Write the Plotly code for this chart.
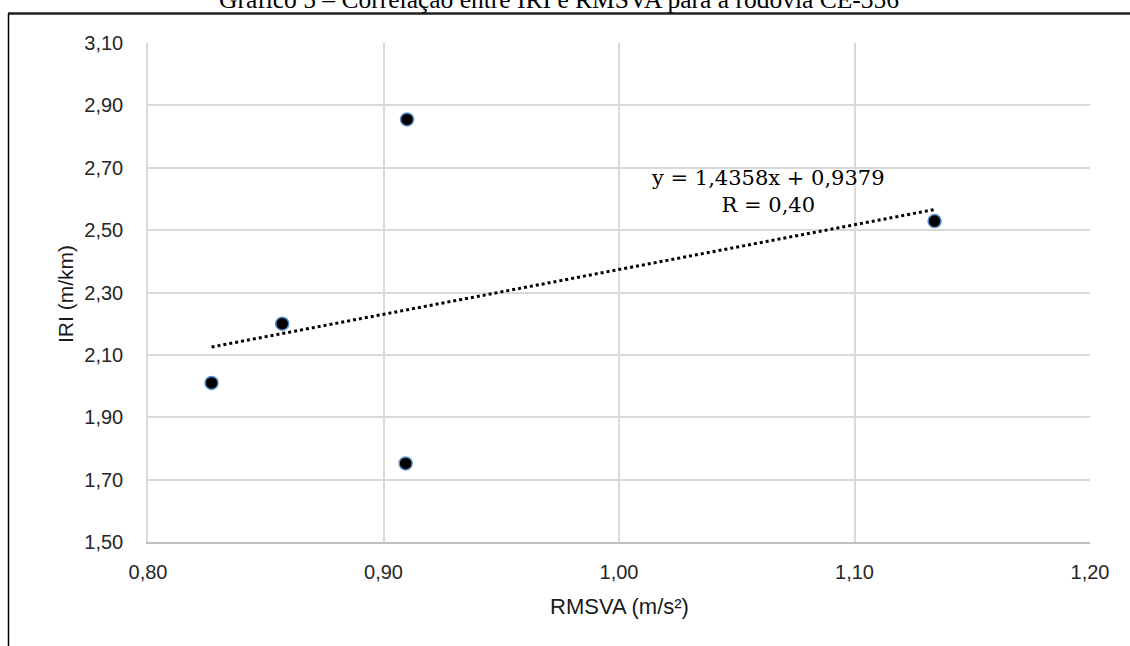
import plotly.graph_objects as go

# Data
rmsva = [0.827, 0.857, 0.9094, 0.910, 1.134]
iri = [2.01, 2.20, 1.752, 2.855, 2.529]
slope = 1.4358
intercept = 0.9379
eq_text = "y = 1,4358x + 0,9379<br>R = 0,40"
title_text = "Gráfico 5 – Correlação entre IRI e RMSVA para a rodovia CE-356"
x_ticks = [0.80, 0.90, 1.00, 1.10, 1.20]
y_ticks = [1.50, 1.70, 1.90, 2.10, 2.30, 2.50, 2.70, 2.90, 3.10]

W, H = 1130, 646
# plot area in page pixels
SL, SR, ST, SB = 148, 1090, 43, 542
L, T, R, B = SL, ST, W - SR, H - SB
pw, ph = SR - SL, SB - ST

def px(xs):
    return (xs - SL) / pw

def py(ys):
    return (SB - ys) / ph

trend_x = [min(rmsva), max(rmsva)]
trend_y = [slope * v + intercept for v in trend_x]

fig = go.Figure()
fig.add_trace(go.Scatter(
    x=trend_x, y=trend_y, mode="lines",
    line=dict(color="black", width=3, dash="dot"),
    showlegend=False, hoverinfo="skip"))
fig.add_trace(go.Scatter(
    x=rmsva, y=iri, mode="markers",
    marker=dict(color="black", size=13, line=dict(color="#5B8FD0", width=1.5)),
    showlegend=False))

axis_font = dict(family="Liberation Sans, Arial", size=20, color="#262626")

fig.update_layout(
    width=W, height=H,
    margin=dict(l=L, r=R, t=T, b=B),
    paper_bgcolor="white", plot_bgcolor="white",
    separators=", ",
    xaxis=dict(range=[0.80, 1.20], tickvals=x_ticks, tickformat=".2f",
               showgrid=True, gridcolor="#d9d9d9", gridwidth=1.5,
               zeroline=False, showline=True, linecolor="#bfbfbf", linewidth=1.5,
               tickfont=axis_font, ticks="", ticklabelstandoff=11),
    yaxis=dict(range=[1.50, 3.10], tickvals=y_ticks, tickformat=".2f",
               showgrid=True, gridcolor="#d9d9d9", gridwidth=1.5,
               zeroline=False, showline=True, linecolor="#d9d9d9", linewidth=1.5,
               tickfont=axis_font, ticks="", ticklabelstandoff=19),
    font=dict(family="Liberation Sans, Arial"),
)

annotations = [
    dict(text=title_text, xref="paper", yref="paper", x=px(559), y=py(-0.5),
         xanchor="center", yanchor="middle", showarrow=False,
         font=dict(family="Liberation Serif, Times New Roman", size=25.5, color="black")),
    dict(text="IRI (m/km)", xref="paper", yref="paper", x=px(65), y=py(294),
         xanchor="center", yanchor="middle", textangle=-90, showarrow=False,
         font=dict(family="Liberation Sans, Arial", size=21, color="#1a1a1a")),
    dict(text="RMSVA (m/s²)", xref="paper", yref="paper", x=px(619), y=py(606),
         xanchor="center", yanchor="middle", showarrow=False,
         font=dict(family="Liberation Sans, Arial", size=22, color="#1a1a1a")),
    dict(text=eq_text, xref="paper", yref="paper", x=px(768), y=py(192),
         xanchor="center", yanchor="middle", showarrow=False, align="center",
         font=dict(family="DejaVu Serif", size=21, color="black")),
]
fig.update_layout(annotations=annotations)

shapes = [
    dict(type="line", xref="paper", yref="paper", x0=px(8), x1=px(1140),
         y0=py(13.5), y1=py(13.5), line=dict(color="#222222", width=2.5)),
    dict(type="line", xref="paper", yref="paper", x0=px(8.5), x1=px(8.5),
         y0=py(13.5), y1=py(660), line=dict(color="black", width=1.5)),
]
fig.update_layout(shapes=shapes)

fig.write_html("out.html", config={"displayModeBar": False},
               post_script="document.body.style.margin='0px';")
